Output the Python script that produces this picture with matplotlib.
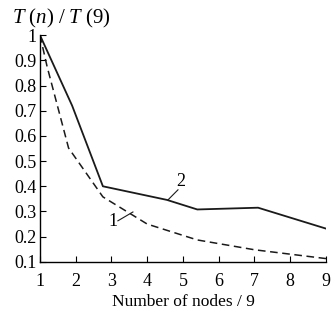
import numpy as np
import matplotlib
matplotlib.use("Agg")
import matplotlib.pyplot as plt

plt.rcParams['font.family'] = ['Liberation Serif', 'DejaVu Serif']
plt.rcParams['mathtext.fontset'] = 'custom'
plt.rcParams['mathtext.rm'] = 'Liberation Serif'
plt.rcParams['mathtext.it'] = 'Liberation Serif:italic'

# Curve 1 (dashed)
x1 = [1, 1.2, 1.8, 2.76, 4.0, 5.4, 7.0, 9.0]
y1 = [1.0, 0.875, 0.552, 0.358, 0.25, 0.187, 0.148, 0.113]

# Curve 2 (solid)
x2 = [1, 1.9, 2.76, 4.55, 5.4, 7.1, 9.0]
y2 = [1.0, 0.72, 0.40, 0.346, 0.308, 0.315, 0.232]

xticks = [1, 2, 3, 4, 5, 6, 7, 8, 9]
yticks = [0.1, 0.2, 0.3, 0.4, 0.5, 0.6, 0.7, 0.8, 0.9, 1]
yticklabels = ['0.1', '0.2', '0.3', '0.4', '0.5', '0.6', '0.7', '0.8', '0.9', '1']

fig = plt.figure(figsize=(3.33, 3.11), dpi=100)
ax = fig.add_axes([0.120, 0.158, 0.859, 0.729])

ax.plot(x1, y1, color='#1a1a1a', lw=1.1, ls=(0, (5, 3)))
ax.plot(x2, y2, color='#1a1a1a', lw=1.3)

# curve labels with leader lines
ax.plot([3.18, 3.6], [0.263, 0.298], color='#1a1a1a', lw=0.8)
ax.text(3.05, 0.262, '1', fontsize=13, ha='center', va='center')
ax.plot([4.58, 4.86], [0.346, 0.386], color='#1a1a1a', lw=0.8)
ax.text(4.95, 0.42, '2', fontsize=13, ha='center', va='center')

ax.set_xlim(1, 9)
ax.set_ylim(0.1, 1.0)
ax.set_xticks(xticks)
ax.set_yticks(yticks)
ax.set_yticklabels(yticklabels)
ax.tick_params(direction='in', length=4, width=0.8, labelsize=13)
ax.tick_params(axis='y', pad=2.5)
ax.tick_params(axis='x', pad=8)
for s in ['top', 'right']:
    ax.spines[s].set_visible(False)
for s in ['left', 'bottom']:
    ax.spines[s].set_linewidth(1.0)

ax.set_xlabel('Number of nodes / 9', fontsize=12.5, labelpad=3)
fig.text(0.035, 0.94, r'$T\ (n)\ /\ T\ (9)$', fontsize=15, ha='left', va='center')

fig.savefig('out.png', dpi=100)
